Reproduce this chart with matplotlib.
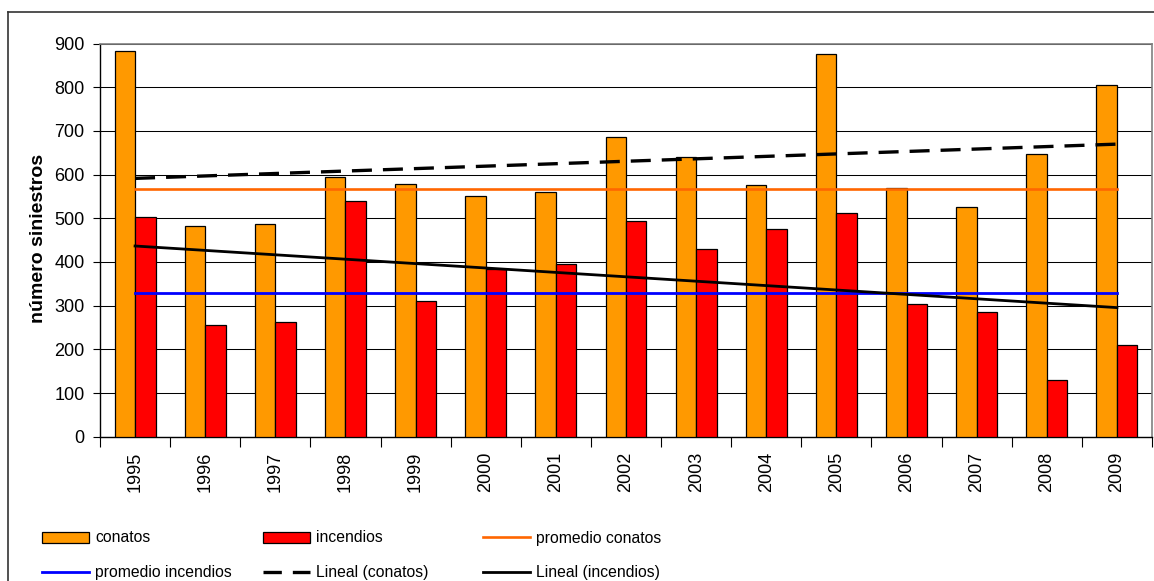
import numpy as np
import matplotlib
matplotlib.use("Agg")
import matplotlib.pyplot as plt
from matplotlib.lines import Line2D
from matplotlib.patches import Patch

plt.rcParams['font.family'] = ['Liberation Sans', 'DejaVu Sans']

# Data
years = ["1995", "1996", "1997", "1998", "1999", "2000", "2001", "2002",
         "2003", "2004", "2005", "2006", "2007", "2008", "2009"]
conatos = [882, 483, 486, 594, 578, 550, 560, 686, 640, 575, 876, 570, 525, 647, 805]
incendios = [504, 256, 262, 539, 311, 383, 395, 494, 430, 476, 511, 304, 286, 130, 209]
promedio_conatos = 567
promedio_incendios = 328
yticks = [0, 100, 200, 300, 400, 500, 600, 700, 800, 900]

W, H = 1154, 581
fig = plt.figure(figsize=(W / 100, H / 100), dpi=100)

# plot area in pixel terms
left, right, top, bottom = 100, 1152, 43.5, 436.7
ax = fig.add_axes([left / W, 1 - bottom / H, (right - left) / W, (bottom - top) / H])

x = np.arange(len(years))
bw = 0.292
ax.bar(x - bw / 2, conatos, width=bw, color='#FF9900', edgecolor='black',
       linewidth=0.9, zorder=3)
ax.bar(x + bw / 2, incendios, width=bw, color='#FF0000', edgecolor='black',
       linewidth=0.9, zorder=3)

# averages
ax.plot([x[0], x[-1]], [promedio_conatos] * 2, color='#FF6600', lw=1.9, zorder=4)
ax.plot([x[0], x[-1]], [promedio_incendios] * 2, color='#0000FF', lw=2.0, zorder=4)

# linear trends
pc = np.polyfit(x, conatos, 1)
pi = np.polyfit(x, incendios, 1)
ln_c, = ax.plot(x, np.polyval(pc, x), color='black', lw=2.4, zorder=5,
                solid_capstyle='butt', dash_capstyle='butt')
ln_c.set_dashes((6, 3.3))
ax.plot(x, np.polyval(pi, x), color='black', lw=2.0, zorder=5)

ax.set_xlim(-0.5, len(years) - 0.5)
ax.set_ylim(0, 900)
ax.set_yticks(yticks)
ax.yaxis.grid(True, color='black', lw=0.75, zorder=0)
ax.set_axisbelow(True)

ax.tick_params(axis='y', direction='out', length=5, width=0.8, pad=6, labelsize=13)
ax.set_xticks(x)
ax.set_xticklabels(years, rotation=90, fontsize=13)
ax.tick_params(axis='x', which='major', length=0, pad=11)
ax.set_xticks(np.arange(-0.5, len(years), 1.0), minor=True)
ax.tick_params(axis='x', which='minor', direction='out', length=7, width=0.8)

for s in ['top', 'right']:
    ax.spines[s].set_color('#808080')
    ax.spines[s].set_linewidth(1.2)
for s in ['left', 'bottom']:
    ax.spines[s].set_color('black')
    ax.spines[s].set_linewidth(1.0)

fig.text(38.5 / W, 1 - 238 / H, "número siniestros", rotation=90, ha='center',
         va='center', fontsize=14, fontweight='bold')

# chart frame
fig.add_artist(Line2D([8 / W, 8 / W], [0, 1 - 12 / H], transform=fig.transFigure,
                      color='#333333', lw=1.2))
fig.add_artist(Line2D([8 / W, 1], [1 - 12 / H, 1 - 12 / H], transform=fig.transFigure,
                      color='#333333', lw=1.2))

# legend, three columns
h_conatos = Patch(facecolor='#FF9900', edgecolor='black', linewidth=0.9)
h_incendios = Patch(facecolor='#FF0000', edgecolor='black', linewidth=0.9)
h_pc = Line2D([], [], color='#FF6600', lw=1.9)
h_pi = Line2D([], [], color='#0000FF', lw=2.0)
h_lc = Line2D([], [], color='black', lw=2.4, dashes=(5.5, 3.3))
h_li = Line2D([], [], color='black', lw=2.0)

columns = [
    (42, [h_conatos, h_pi], ["conatos", "promedio incendios"]),
    (263, [h_incendios, h_lc], ["incendios", "Lineal (conatos)"]),
    (483, [h_pc, h_li], ["promedio conatos", "Lineal (incendios)"]),
]
for xpix, handles, labels in columns:
    leg = fig.legend(handles, labels, loc='upper left',
                     bbox_to_anchor=(xpix / W, 1 - 530.5 / H),
                     frameon=False, fontsize=11.3, handlelength=3.0,
                     handletextpad=0.4, borderpad=0, borderaxespad=0,
                     labelspacing=1.25)

fig.savefig("out.png", dpi=100)
